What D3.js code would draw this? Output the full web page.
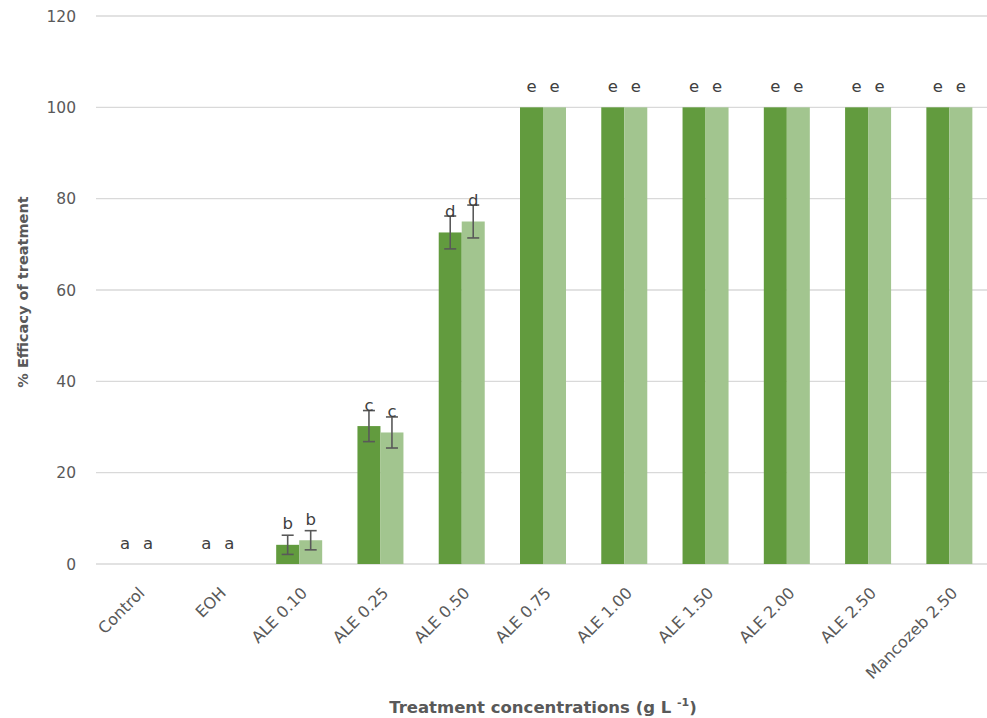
<html>
<head>
<style type="text/css">
  body { margin: 0; background: #fff; }
  .grid line { stroke: #d9d9d9; stroke-width: 1.3; }
  .tick-label { font-family: "DejaVu Sans", sans-serif; font-size: 15.5px; fill: #595959; }
  .cat-label { font-family: "DejaVu Sans", sans-serif; font-size: 16px; fill: #595959; }
  .letter { font-family: "DejaVu Sans", sans-serif; font-size: 16.5px; fill: #404040; text-anchor: middle; }
  .axis-title { font-family: "DejaVu Sans", sans-serif; font-size: 14.5px; font-weight: bold; fill: #595959; }
  .err { stroke: #595959; stroke-width: 1.6; }
</style>
<script src="https://d3js.org/d3.v7.min.js"></script>
</head>
<body>
<script type="text/javascript">
var categories = ["Control", "EOH", "ALE 0.10", "ALE 0.25", "ALE 0.50", "ALE 0.75",
                  "ALE 1.00", "ALE 1.50", "ALE 2.00", "ALE 2.50", "Mancozeb 2.50"];
var seriesDark = [0, 0, 4.2, 30.2, 72.6, 100, 100, 100, 100, 100, 100];
var seriesLight = [0, 0, 5.2, 28.8, 75.0, 100, 100, 100, 100, 100, 100];
var errDark = [0, 0, 2.1, 3.4, 3.6, 0, 0, 0, 0, 0, 0];
var errLight = [0, 0, 2.1, 3.4, 3.6, 0, 0, 0, 0, 0, 0];
var lettersDark = ["a", "a", "b", "c", "d", "e", "e", "e", "e", "e", "e"];
var lettersLight = ["a", "a", "b", "c", "d", "e", "e", "e", "e", "e", "e"];
var yTicks = [0, 20, 40, 60, 80, 100, 120];

var width = 987, height = 718;
var plotLeft = 96, plotRight = 990, plotTop = 16, plotBottom = 564;

var svg = d3.select("body").append("svg")
  .attr("width", width).attr("height", height);

var x0 = d3.scaleBand().domain(categories).range([plotLeft, plotRight])
  .paddingInner(0.434).paddingOuter(0.217);
var x1 = d3.scaleBand().domain(["dark", "light"]).range([0, x0.bandwidth()]);
var y = d3.scaleLinear().domain([0, 120]).range([plotBottom, plotTop]);

// gridlines
svg.append("g").attr("class", "grid")
  .selectAll("line").data(yTicks).enter().append("line")
    .attr("x1", plotLeft).attr("x2", width)
    .attr("y1", function(d) { return y(d); })
    .attr("y2", function(d) { return y(d); });

svg.append("g").selectAll("text").data(yTicks).enter().append("text")
  .attr("class", "tick-label")
  .attr("x", 76).attr("y", function(d) { return y(d) + 5.5; })
  .attr("text-anchor", "end")
  .text(function(d) { return d; });

var rows = categories.map(function(c, i) {
  return [
    { cat: c, key: "dark", v: seriesDark[i], e: errDark[i], l: lettersDark[i], fill: "#629b3e" },
    { cat: c, key: "light", v: seriesLight[i], e: errLight[i], l: lettersLight[i], fill: "#a2c58f" }
  ];
});
var flat = [].concat.apply([], rows);

function cx(d) { return x0(d.cat) + x1(d.key) + x1.bandwidth() / 2; }

svg.append("g").selectAll("rect").data(flat).enter().append("rect")
  .attr("x", function(d) { return x0(d.cat) + x1(d.key); })
  .attr("width", x1.bandwidth())
  .attr("y", function(d) { return y(d.v); })
  .attr("height", function(d) { return y(0) - y(d.v); })
  .attr("fill", function(d) { return d.fill; });

var withErr = flat.filter(function(d) { return d.e > 0; });
var eg = svg.append("g");
eg.selectAll("line.v").data(withErr).enter().append("line")
  .attr("class", "err v")
  .attr("x1", cx).attr("x2", cx)
  .attr("y1", function(d) { return y(d.v + d.e); })
  .attr("y2", function(d) { return y(d.v - d.e); });
[1, -1].forEach(function(s) {
  eg.selectAll("line.c" + s).data(withErr).enter().append("line")
    .attr("class", "err")
    .attr("x1", function(d) { return cx(d) - 6; })
    .attr("x2", function(d) { return cx(d) + 6; })
    .attr("y1", function(d) { return y(d.v + s * d.e); })
    .attr("y2", function(d) { return y(d.v + s * d.e); });
});

svg.append("g").selectAll("text").data(flat).enter().append("text")
  .attr("class", "letter")
  .attr("x", cx)
  .attr("y", function(d) { return y(d.v) - 15.5; })
  .text(function(d) { return d.l; });

// category labels
svg.append("g").selectAll("text").data(categories).enter().append("text")
  .attr("class", "cat-label")
  .attr("text-anchor", "end")
  .attr("transform", function(d) {
    return "translate(" + (x0(d) + x0.bandwidth() / 2 + 9) + "," + 594 + ") rotate(-45)";
  })
  .text(function(d) { return d; });

var xt = svg.append("text").attr("class", "axis-title")
  .attr("x", 543).attr("y", 713).attr("text-anchor", "middle")
  .style("font-size", "16.5px");
xt.append("tspan").text("Treatment concentrations (g L ");
xt.append("tspan").attr("dy", -7).attr("font-size", "11px").text("-1");
xt.append("tspan").attr("dy", 7).text(")");

svg.append("text").attr("class", "axis-title")
  .attr("transform", "translate(28," + 292 + ") rotate(-90)")
  .attr("text-anchor", "middle")
  .text("% Efficacy of treatment");
</script>
</body>
</html>
